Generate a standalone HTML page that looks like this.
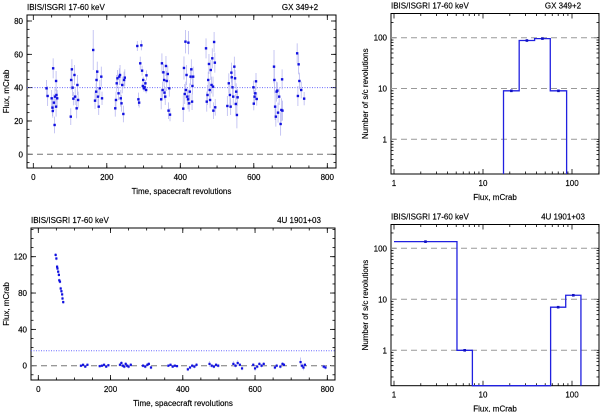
<!DOCTYPE html>
<html><head><meta charset="utf-8"><style>
html,body{margin:0;padding:0;background:#fff;width:600px;height:412px;overflow:hidden}
svg{display:block}
text{font-family:"Liberation Sans",sans-serif;font-size:8px;fill:#000;stroke:#000;stroke-width:0.15}
</style></head><body>
<svg id="svg" width="600" height="412" xmlns="http://www.w3.org/2000/svg"></svg>
<script>
// ---- data: GX 349+2 light curve [revolution, flux, error] ----
const gxRev = [36,39,50,52,53,54,56,58,59,62,62,63,65,102,103,105,107,109,112,114,118,120,122,163,168,171,172,174,176,178,181,185,187,223,225,227,229,232,234,236,238,240,242,245,247,249,283,286,288,291,294,296,298,299,301,303,305,307,308,348,350,352,354,356,357,359,361,363,366,368,370,372,408,410,412,414,415,417,419,421,422,424,426,428,430,432,433,435,470,472,474,476,478,480,481,483,485,487,489,490,492,494,495,528,532,535,537,539,540,542,544,547,549,551,552,554,556,599,600,602,604,606,608,655,656,658,660,662,664,666,669,673,675,677,678,718,720,722,724,729,737];
const gxFlux = [39.6,35,33.6,28,26,51.6,31,17.6,34.6,44,28.6,35.6,33.6,22.6,44.6,51,40,33.4,47.6,34.6,27.6,41.6,32.6,62.6,32.2,37.6,44.6,49.6,34.6,28.6,39.6,46.6,33.6,27.6,32.6,42.6,45.6,36.6,46.6,47.6,33.6,30.6,41.6,24.2,44.6,46,65,33,31,54.6,65.4,50.2,41,44.6,39.6,40.2,42.6,38.6,47.4,33,54.6,38.6,49.2,44.6,37,34.6,53,44,48.2,26.2,39.6,23.8,27.4,51.8,36.2,67.6,38.6,47.6,34.6,33,67,30.6,37.6,46.6,51,31.6,41,46.6,63.6,31.6,35.6,44.6,54.2,38.6,32.6,50.6,41.6,57.6,40.6,26.2,67.4,55,28.2,29,42.6,35.6,28.6,49,46.2,40.2,34.6,52.6,45.6,30.2,37.6,23.6,34.2,40.2,30.4,34.6,36.6,43.8,33.2,52.6,44.6,28.6,22.6,37.6,38.2,25,34.6,18.2,26.6,45,26.2,60.6,35,54,44,38.6,33.4];
const gxErr = [5,6,5,5,4,6,5,5,5,6,6,4,5,5,6,6,5,4,6,5,6,6,5,12,5,5,6,6,5,5,5,6,4,5,5,5,5,4,5,6,5,5,5,5,5,5,3,4,3,4,3,3,2,2,2,2,2,2,3,6,6,5,5,4,4,5,6,6,5,5,5,4,8,7,6,7,5,6,5,6,7,5,5,5,6,5,5,6,6,6,6,5,6,5,5,6,5,6,6,5,6,6,5,6,6,6,5,6,6,5,5,6,5,6,5,8,5,4,4,4,4,5,4,10,8,8,6,6,5,6,5,7,7,6,6,6,6,6,5,5,4];
const gxMean = 40;
// ---- data: 4U 1901+03 light curve ----
const uRev = [48,50,52,53,55,57,58,60,62,64,66,67,69,118,124,130,136,170,176,182,188,194,226,230,234,238,242,246,250,256,290,296,302,306,312,360,366,372,378,384,414,420,426,432,438,474,480,486,492,498,540,546,552,558,564,595,600,606,612,618,624,655,660,670,676,680,726,730,734,738,790,795];
const uFlux = [122,118,109,107,103.5,100,94,92.5,85,82,78.5,74,70,0,1,-1,1,-0.5,0,1,-1,0.5,1,3,0,-1,2,0,-1,1,0,-1,1,2,-2,0,1,-1,0,-0.5,-4,-2,0,-1,1,2,0,-1,1,0,2,0,3,1,-3,1,-3,-1,2,0,2,-2,0,-1,2,1,4,0,-2,1,-1,-2];
const uErr = [2,2,2,2,2,2,2,2,2,2,2,2,2,1.5,1.5,1.5,1.5,1.5,1.5,1.5,1.5,1.5,2,2,2,2,2,2,2,2,2,2,2,2,2,1.5,1.5,1.5,1.5,1.5,2,2,2,2,2,3,2,2,2,2,3,2,3,2,2,2,3,2,2,2,2,2,2,2,2,2,5,3,3,2,2,2];
const uMean = 16.5;
// ---- histograms ----
const gxEdges = [17,25.5,38,57,87];
const gxCounts = [9,88,96,9];
const uEdges = [1,5.1,7.6,57.5,85,126];
const uCounts = [135,1,0,7,12];

const NS="http://www.w3.org/2000/svg";
const svg=document.getElementById('svg');
function el(tag,attrs,parent){const e=document.createElementNS(NS,tag);for(const k in attrs)e.setAttribute(k,attrs[k]);(parent||svg).appendChild(e);return e;}
function txt(x,y,s,anchor,parent,rot){const t=el('text',{x:x,y:y,'text-anchor':anchor||'start'},parent);if(rot)t.setAttribute('transform',`rotate(-90 ${x} ${y})`);t.textContent=s;return t;}

function panel(name,L,R,T,B,xs,ys,ytx,xMajors,yMajors,xMinors,yMinors,xLab,yLab,title2,xTitle,yTitle){
  const g=el('g',{});
  
  
  const tk=el('g',{stroke:'#000','stroke-width':0.8},g);
  
  
  xMajors.forEach(v=>{const x=xs(v);el('line',{x1:x,x2:x,y1:B,y2:B-5},tk);el('line',{x1:x,x2:x,y1:T,y2:T+5},tk);});
  xMinors.forEach(v=>{const x=xs(v);el('line',{x1:x,x2:x,y1:B,y2:B-2.5},tk);el('line',{x1:x,x2:x,y1:T,y2:T+2.5},tk);});
  yMajors.forEach(v=>{const y=ys(v);el('line',{x1:L,x2:L+5,y1:y,y2:y},tk);el('line',{x1:R,x2:R-5,y1:y,y2:y},tk);});
  yMinors.forEach(v=>{const y=ys(v);el('line',{x1:L,x2:L+2.5,y1:y,y2:y},tk);el('line',{x1:R,x2:R-2.5,y1:y,y2:y},tk);});
  const fr=el('rect',{x:L,y:T,width:R-L,height:B-T,fill:'none',stroke:'#000','stroke-width':1},g);
  
  
  xMajors.forEach((v,i)=>{const t=txt(xs(v),B+12,xLab[i],'middle',g);});
  yMajors.forEach((v,i)=>{const t=txt(L-4,ys(v)+3,yLab[i],'end',g);});
  const t1=txt(L,T-5,'IBIS/ISGRI 17-60 keV','start',g);
  
  const t2=txt(R-36,T-5,title2,'middle',g);
  
  const xt=txt((L+R)/2,B+26,xTitle,'middle',g);
  
  const yt=txt(ytx,(T+B)/2,yTitle,'middle',g,true);
  
  return g;
}
function range(a,b,s){const r=[];for(let v=a;v<=b+1e-9;v+=s)r.push(v);return r;}
function logMinors(d0,d1){const r=[];for(let d=d0;d<=d1;d++)for(let m=2;m<=9;m++)r.push(m*Math.pow(10,d));return r;}

(function(){
 const L=27,R=336,T=15,B=168;
 const xs=v=>33.3+v*(294/800), ys=v=>154.3-v*(133.3/80);
 const g=panel('gx-lightcurve',L,R,T,B,xs,ys,9,[0,200,400,600,800],[0,20,40,60,80],range(50,800,50),range(-5,80,5),['0','200','400','600','800'],['0','20','40','60','80'],'GX 349+2','Time, spacecraft revolutions','Flux, mCrab');
 const z=el('line',{x1:L,x2:R,y1:ys(0),y2:ys(0),stroke:'#777','stroke-dasharray':'6,4','stroke-width':1},g);
 
 const m=el('line',{x1:L,x2:R,y1:ys(gxMean),y2:ys(gxMean),stroke:'#6a6aff','stroke-dasharray':'1,1.5','stroke-width':1},g);
 
 gxRev.forEach((r,i)=>{
  const x=xs(r);
  const eb=el('line',{x1:x,x2:x,y1:ys(gxFlux[i]-gxErr[i]),y2:ys(gxFlux[i]+gxErr[i]),stroke:'#b8b8f0','stroke-width':0.8},g);
  
 });
 gxRev.forEach((r,i)=>{
  const p=el('rect',{x:xs(r)-1.2,y:ys(gxFlux[i])-1.2,width:2.4,height:2.4,fill:'#1010e0'},g);
  
 });
})();

(function(){
 const L=31,R=335,T=228,B=380;
 const xs=v=>38.3+v*(289/800), ys=v=>365.7-v*(109/120);
 const g=panel('4u-lightcurve',L,R,T,B,xs,ys,9,[0,200,400,600,800],[0,40,80,120],range(-50,850,50).filter(v=>v>=-12&&v<=820),range(-10,150,10),['0','200','400','600','800'],['0','40','80','120'],'4U 1901+03','Time, spacecraft revolutions','Flux, mCrab');
 const z=el('line',{x1:L,x2:R,y1:ys(0),y2:ys(0),stroke:'#777','stroke-dasharray':'6,4','stroke-width':1},g);
 
 const m=el('line',{x1:L,x2:R,y1:ys(uMean),y2:ys(uMean),stroke:'#6a6aff','stroke-dasharray':'1,1.5','stroke-width':1},g);
 
 uRev.forEach((r,i)=>{
  const x=xs(r);
  const eb=el('line',{x1:x,x2:x,y1:ys(uFlux[i]-uErr[i]),y2:ys(uFlux[i]+uErr[i]),stroke:'#b8b8f0','stroke-width':0.8},g);
  
 });
 uRev.forEach((r,i)=>{
  const p=el('rect',{x:xs(r)-1.1,y:ys(uFlux[i])-1.1,width:2.2,height:2.2,fill:'#1010e0'},g);
  
 });
})();

function hist(name,L,R,T,B,x1px,y1px,dxd,dyd,edges,counts,title2){
 const xs=v=>x1px+Math.log10(v)*dxd, ys=v=>y1px-Math.log10(v)*dyd;
 const xmax=Math.pow(10,(R-x1px)/dxd);
 const ymin=Math.pow(10,(y1px-B)/dyd);
 const xmi=logMinors(0,2).filter(v=>v<=xmax);
 const ymi=logMinors(-1,2).filter(v=>v>=ymin&&ys(v)>=T);
 const g=panel(name,L,R,T,B,xs,ys,368,[1,10,100],[1,10,100],xmi,ymi,['1','10','100'],['1','10','100'],title2,'Flux, mCrab','Number of s/c revolutions');
 [1,10,100].forEach(v=>{const d=el('line',{x1:L,x2:R,y1:ys(v),y2:ys(v),stroke:'#999','stroke-dasharray':'6,4','stroke-width':1},g);});
 const yv=c=>c>0?ys(c):B;
 let d=`M${xs(edges[0])},${counts[0]>0&&edges[0]<=1.01?yv(counts[0]):B}`;
 for(let i=0;i<counts.length;i++){
   d+=` L${xs(edges[i])},${yv(counts[i])} L${xs(edges[i+1])},${yv(counts[i])}`;
   const nxt=i+1<counts.length?yv(counts[i+1]):B;
   d+=` L${xs(edges[i+1])},${nxt}`;
 }
 const p=el('path',{d:d,fill:'none',stroke:'#2020e0','stroke-width':1.3},g);
 
 counts.forEach((c,i)=>{ if(c<=0)return;
  const cx=Math.sqrt(edges[i]*edges[i+1]);
  const m=el('rect',{x:xs(cx)-1.3,y:ys(c)-1.3,width:2.6,height:2.6,fill:'#1010c0'},g);
  
 });
}
hist('gx-flux-histogram',391,599,13.5,174,394,139.3,89,50.8,gxEdges,gxCounts,'GX 349+2');
hist('4u-flux-histogram',391,599,224.5,385.7,394,350.3,89,51,uEdges,uCounts,'4U 1901+03');
</script>
</body></html>
